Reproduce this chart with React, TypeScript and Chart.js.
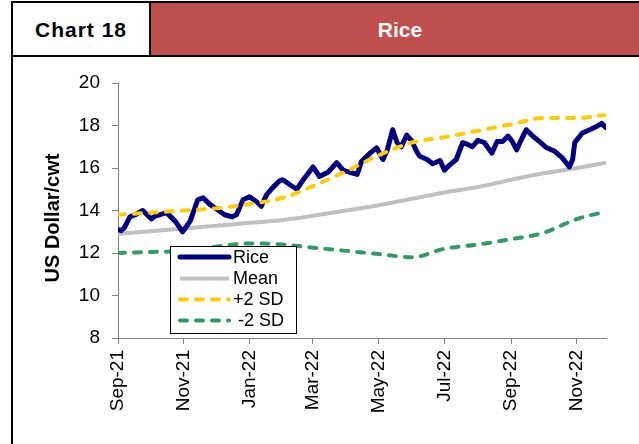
import React, { useEffect, useRef } from "react";
import { Chart, registerables } from "chart.js";

Chart.register(...registerables);

const headerLeft = "Chart 18";
const headerTitle = "Rice";
const yAxisTitle = "US Dollar/cwt";

const riceDates = [
  "2021-09-01", "2021-09-04", "2021-09-07", "2021-09-12", "2021-09-17", "2021-09-24",
  "2021-10-02", "2021-10-06", "2021-10-10", "2021-10-16", "2021-10-24", "2021-10-31",
  "2021-11-07", "2021-11-14", "2021-11-19", "2021-11-25", "2021-12-02", "2021-12-09",
  "2021-12-16", "2021-12-20", "2021-12-26", "2022-01-01", "2022-01-08", "2022-01-12",
  "2022-01-17", "2022-01-23", "2022-01-29", "2022-02-01", "2022-02-08", "2022-02-14",
  "2022-02-20", "2022-03-01", "2022-03-07", "2022-03-15", "2022-03-23", "2022-03-29",
  "2022-04-04", "2022-04-11", "2022-04-15", "2022-04-23", "2022-04-29", "2022-05-05",
  "2022-05-09", "2022-05-14", "2022-05-18", "2022-05-22", "2022-05-27", "2022-06-01",
  "2022-06-05", "2022-06-08", "2022-06-15", "2022-06-20", "2022-06-27", "2022-07-01",
  "2022-07-06", "2022-07-12", "2022-07-18", "2022-07-23", "2022-07-27", "2022-08-01",
  "2022-08-07", "2022-08-14", "2022-08-19", "2022-08-24", "2022-08-29", "2022-09-02",
  "2022-09-06", "2022-09-11", "2022-09-15", "2022-09-20", "2022-09-27", "2022-10-04",
  "2022-10-11", "2022-10-18", "2022-10-25", "2022-10-28", "2022-10-30", "2022-11-06",
  "2022-11-13", "2022-11-19", "2022-11-24", "2022-11-28",
];
const riceValues = [
  13.1, 13.05, 13.2, 13.7, 13.8, 14.0,
  13.6, 13.75, 13.8, 13.9, 13.5, 13.0,
  13.5, 14.5, 14.6, 14.3, 14.05, 13.8,
  13.7, 13.8, 14.5, 14.65, 14.4, 14.2,
  14.75, 15.1, 15.4, 15.45, 15.2, 15.0,
  15.45, 16.05, 15.6, 15.8, 16.25, 15.9,
  15.8, 15.7, 16.3, 16.7, 16.95, 16.4,
  16.85, 17.8, 17.2, 17.0, 17.55, 17.25,
  16.8, 16.55, 16.4, 16.2, 16.35, 15.9,
  16.15, 16.4, 17.2, 17.1, 17.0, 17.3,
  17.2, 16.7, 17.25, 17.25, 17.5, 17.25,
  16.85, 17.4, 17.8, 17.55, 17.25, 16.95,
  16.8, 16.5, 16.05, 16.4, 17.2, 17.65,
  17.8, 17.95, 18.1, 17.9,
];

const bandDates = [
  "2021-09-01", "2021-10-01", "2021-11-01", "2021-12-01", "2022-01-01", "2022-02-01",
  "2022-03-01", "2022-04-01", "2022-05-01", "2022-06-01", "2022-07-01", "2022-08-01",
  "2022-09-01", "2022-10-01", "2022-11-01", "2022-11-28",
];
const meanValues = [12.9, 13.02, 13.15, 13.28, 13.42, 13.55, 13.75, 14.0, 14.25, 14.55, 14.85, 15.1, 15.45, 15.75, 16.0, 16.25];
const upperValues = [13.8, 13.9, 14.0, 14.1, 14.3, 14.6, 15.15, 15.85, 16.6, 17.2, 17.45, 17.75, 18.05, 18.35, 18.35, 18.5];
const lowerValues = [12.0, 12.05, 12.1, 12.3, 12.45, 12.4, 12.25, 12.1, 11.95, 11.8, 12.2, 12.4, 12.65, 12.95, 13.6, 13.95];

const tickDates = ["2021-09-01", "2021-11-01", "2022-01-01", "2022-03-01", "2022-05-01", "2022-07-01", "2022-09-01", "2022-11-01"];
const tickLabels = ["Sep-21", "Nov-21", "Jan-22", "Mar-22", "May-22", "Jul-22", "Sep-22", "Nov-22"];
const yMin = 8;
const yMax = 20;
const yStep = 2;

const seriesNames = ["Rice", "Mean", "+2 SD", " -2 SD"];

const FONT = "'Liberation Sans', Arial, Helvetica, sans-serif";
const ORIGIN = Date.UTC(2021, 8, 1);
const toDay = (s: string) => {
  const [y, m, d] = s.split("-").map(Number);
  return (Date.UTC(y, m - 1, d) - ORIGIN) / 86400000;
};

const overlayPlugin = {
  id: "overlay",
  afterDraw(chart: any) {
    const ctx = chart.ctx as CanvasRenderingContext2D;
    // Y-axis title
    ctx.save();
    ctx.translate(53.5, 218);
    ctx.rotate(-Math.PI / 2);
    ctx.font = `bold 20px ${FONT}`;
    ctx.fillStyle = "#000";
    ctx.textAlign = "center";
    ctx.textBaseline = "middle";
    ctx.fillText(yAxisTitle, 0, 0);
    ctx.restore();

    // Legend
    const bx = 170.5, by = 246.5, bw = 126, bh = 87;
    ctx.save();
    ctx.fillStyle = "#fff";
    ctx.fillRect(bx, by, bw, bh);
    ctx.strokeStyle = "#000";
    ctx.lineWidth = 1;
    ctx.strokeRect(bx, by, bw, bh);
    const rows = [257, 278.5, 299.5, 320.5];
    chart.data.datasets.forEach((ds: any, i: number) => {
      const y = rows[i];
      ctx.save();
      ctx.strokeStyle = ds.borderColor;
      ctx.lineWidth = ds.borderWidth;
      ctx.lineCap = ds.borderCapStyle || "butt";
      ctx.setLineDash(ds.borderDash || []);
      ctx.beginPath();
      ctx.moveTo(180, y);
      ctx.lineTo(229, y);
      ctx.stroke();
      ctx.restore();
      ctx.font = `18px ${FONT}`;
      ctx.fillStyle = "#000";
      ctx.textAlign = "left";
      ctx.textBaseline = "middle";
      ctx.fillText(ds.label, 233, y + 1);
    });
    ctx.restore();
  },
};

function ChartCanvas() {
  const ref = useRef<HTMLCanvasElement | null>(null);
  useEffect(() => {
    if (!ref.current) return;
    const xMax = toDay(riceDates[riceDates.length - 1]);
    const chart = new Chart(ref.current, {
      type: "line",
      data: {
        datasets: [
          {
            label: seriesNames[0],
            data: riceDates.map((d, i) => ({ x: toDay(d), y: riceValues[i] })),
            borderColor: "#000080",
            borderWidth: 5,
            pointRadius: 0,
            tension: 0,
            borderJoinStyle: "round",
            borderCapStyle: "round",
            order: 2,
          },
          {
            label: seriesNames[1],
            data: bandDates.map((d, i) => ({ x: toDay(d), y: meanValues[i] })),
            borderColor: "#C0C0C0",
            borderWidth: 4,
            pointRadius: 0,
            cubicInterpolationMode: "monotone",
            borderCapStyle: "butt",
            order: 3,
          },
          {
            label: seriesNames[2],
            data: bandDates.map((d, i) => ({ x: toDay(d), y: upperValues[i] })),
            borderColor: "#FFCC00",
            borderWidth: 4,
            borderDash: [7, 9],
            borderCapStyle: "round",
            pointRadius: 0,
            cubicInterpolationMode: "monotone",
            order: 0,
          },
          {
            label: seriesNames[3],
            data: bandDates.map((d, i) => ({ x: toDay(d), y: lowerValues[i] })),
            borderColor: "#339966",
            borderWidth: 4,
            borderDash: [7, 9],
            borderCapStyle: "round",
            pointRadius: 0,
            cubicInterpolationMode: "monotone",
            order: 1,
          },
        ] as any,
      },
      options: {
        animation: false,
        responsive: false,
        maintainAspectRatio: false,
        events: [],
        layout: { padding: { top: 83, right: 33, left: 0, bottom: 0 } },
        plugins: { legend: { display: false }, tooltip: { enabled: false }, title: { display: false } },
        scales: {
          x: {
            type: "linear",
            min: 0,
            max: xMax,
            afterBuildTicks: (s: any) => {
              s.ticks = tickDates.map((d) => ({ value: toDay(d) }));
            },
            afterFit: (s: any) => {
              s.height = 106;
            },
            ticks: {
              autoSkip: false,
              maxRotation: 90,
              minRotation: 90,
              padding: 6,
              color: "#000",
              font: { family: FONT, size: 19 },
              callback: (_v: any, i: number) => tickLabels[i],
            },
            grid: { drawOnChartArea: false, drawTicks: true, tickLength: 6, color: "#808080" },
            border: { color: "#808080", width: 1 },
          },
          y: {
            type: "linear",
            min: yMin,
            max: yMax,
            afterFit: (s: any) => {
              s.width = 118;
            },
            ticks: {
              stepSize: yStep,
              padding: 12,
              color: "#000",
              font: { family: FONT, size: 19 },
            },
            grid: { drawOnChartArea: false, drawTicks: true, tickLength: 6, color: "#808080" },
            border: { color: "#808080", width: 1 },
          },
        },
      } as any,
      plugins: [overlayPlugin],
    });
    return () => chart.destroy();
  }, []);
  return (
    <canvas
      ref={ref}
      width={639}
      height={444}
      style={{ position: "absolute", left: 0, top: 0, width: 639, height: 444 }}
    />
  );
}

export default function App() {
  return (
    <div
      style={{
        position: "fixed",
        left: 0,
        top: 0,
        width: 639,
        height: 444,
        background: "#fff",
        overflow: "hidden",
        fontFamily: FONT,
      }}
    >
      <div
        style={{
          position: "absolute",
          left: 11,
          top: 1,
          width: 640,
          height: 52,
          borderTop: "2px solid #000",
          borderLeft: "2px solid #000",
          borderBottom: "2px solid #000",
          display: "flex",
        }}
      >
        <div
          style={{
            width: 136,
            borderRight: "2px solid #000",
            background: "#fff",
            display: "flex",
            alignItems: "center",
            justifyContent: "center",
            fontWeight: "bold",
            fontSize: 21,
            letterSpacing: 1,
            color: "#000",
            paddingTop: 2,
          }}
        >
          {headerLeft}
        </div>
        <div
          style={{
            flex: 1,
            background: "#C0504D",
            display: "flex",
            alignItems: "center",
            justifyContent: "center",
            fontWeight: "bold",
            fontSize: 21,
            color: "#fff",
            paddingRight: 4,
            paddingTop: 2,
          }}
        >
          {headerTitle}
        </div>
      </div>
      <div style={{ position: "absolute", left: 11, top: 56, width: 2, height: 388, background: "#000" }} />
      <ChartCanvas />
    </div>
  );
}
